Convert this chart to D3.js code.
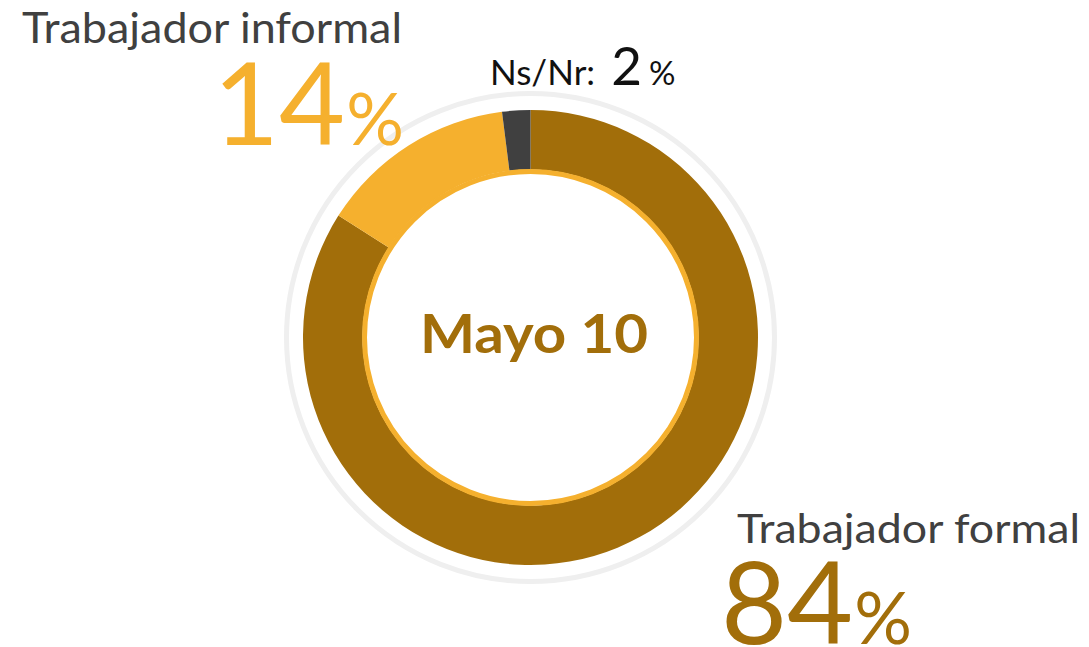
<!DOCTYPE html>
<html>
<head>
<meta charset="utf-8">
<script src="https://cdn.jsdelivr.net/npm/d3@7"></script>
<style>
  html, body { margin: 0; padding: 0; background: #ffffff; }
  svg { display: block; }
  text { font-family: Lato, "Open Sans", sans-serif; }
</style>
</head>
<body>
<svg id="chart" width="1089" height="647"></svg>
<script>
// Employment type shares for the survey round
const categories = ["Trabajador formal", "Trabajador informal", "Ns/Nr"];
const values = [84, 14, 2];
const colors = ["#A26E0A", "#F5B02E", "#404040"];
const centerTitle = "Mayo 10";

const svg = d3.select("#chart");
const cx = 530.5, cy = 337.5;
const outerR = 227.5, innerR = 168;

const g = svg.append("g").attr("transform", `translate(${cx},${cy})`);

// faint halo ring around the donut
g.append("circle")
  .attr("r", 244)
  .attr("fill", "none")
  .attr("stroke", "#efefef")
  .attr("stroke-width", 5);

const pie = d3.pie().sort(null).value(d => d.value);
const arc = d3.arc().innerRadius(innerR).outerRadius(outerR);

const slices = pie(categories.map((c, i) => ({ name: c, value: values[i], color: colors[i] })));

g.selectAll("path.slice")
  .data(slices)
  .join("path")
  .attr("class", "slice")
  .attr("d", arc)
  .attr("fill", d => d.data.color);

// thin accent ring on the inner edge
g.append("circle")
  .attr("r", 166)
  .attr("fill", "none")
  .attr("stroke", colors[1])
  .attr("stroke-width", 5);

g.append("text")
  .attr("x", 534 - cx)
  .attr("y", 353 - cy)
  .attr("text-anchor", "middle")
  .attr("font-size", 54)
  .attr("font-weight", 700)
  .attr("fill", colors[0])
  .attr("textLength", 228)
  .attr("lengthAdjust", "spacingAndGlyphs")
  .text(centerTitle);

// Category labels with their percentages
function bigLabel(xName, nameWidth, yName, xValue, yValue, i, nameSize, numSize, pctSize) {
  svg.append("text")
    .attr("x", xName).attr("y", yName)
    .attr("font-size", nameSize)
    .attr("fill", "#404040")
    .attr("textLength", nameWidth)
    .attr("lengthAdjust", "spacingAndGlyphs")
    .text(categories[i]);
  const t = svg.append("text")
    .attr("x", xValue).attr("y", yValue)
    .attr("fill", colors[i]);
  t.append("tspan").attr("font-size", numSize).text(values[i]);
  t.append("tspan").attr("font-size", pctSize).attr("dx", 1).text("%");
}

bigLabel(22, 380, 43, 213, 145, 1, 42, 114, 72);
bigLabel(737, 343, 543, 721, 644, 0, 40, 114, 72);

// Ns/Nr label
const ns = svg.append("text")
  .attr("x", 490).attr("y", 85)
  .attr("fill", "#111111");
ns.append("tspan").attr("font-size", 35).text(categories[2] + ":");
ns.append("tspan").attr("font-size", 53).attr("dx", 16).text(values[2]);
ns.append("tspan").attr("font-size", 33).attr("dx", 7).text("%");
</script>
</body>
</html>
